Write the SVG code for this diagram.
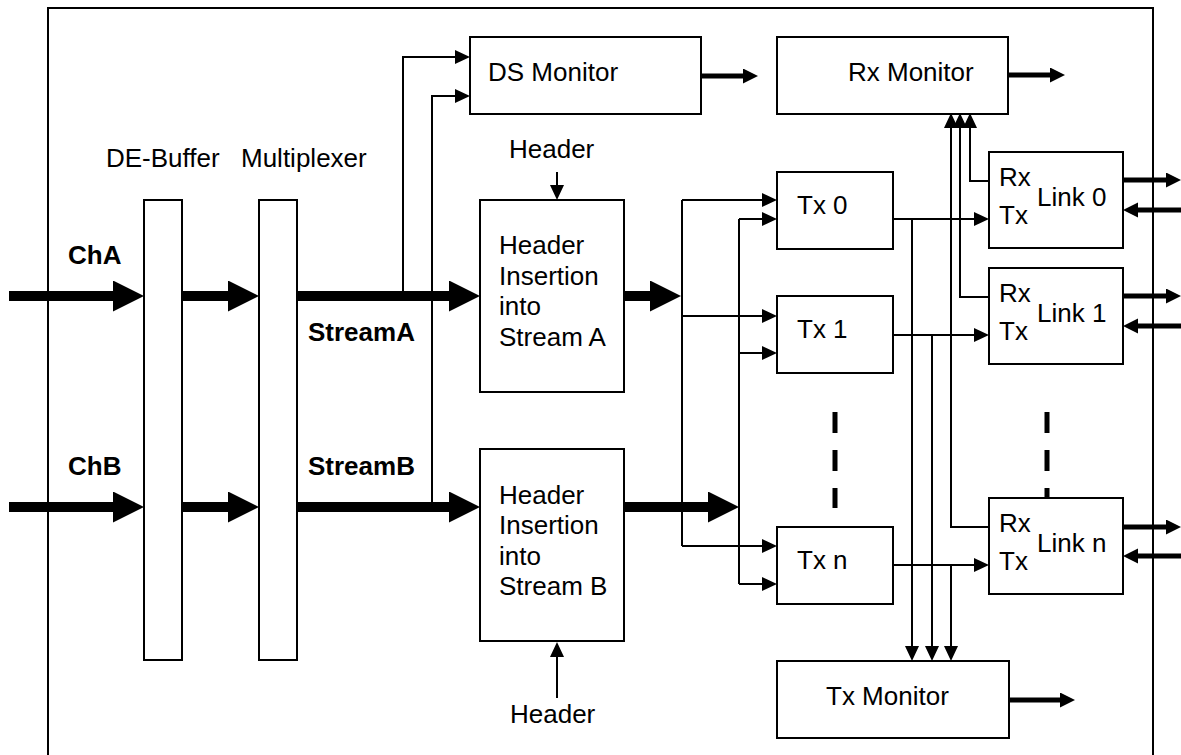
<svg xmlns="http://www.w3.org/2000/svg" width="1181" height="755" viewBox="0 0 1181 755">
<defs>
<style>
.box{fill:#fff;stroke:#000;stroke-width:2}
.t{font-family:"Liberation Sans",Arial,sans-serif;font-size:26px;fill:#000}
.b{font-weight:bold}
.thin{fill:none;stroke:#000;stroke-width:2}
.thinA{fill:none;stroke:#000;stroke-width:2;marker-end:url(#ah)}
.med{fill:none;stroke:#000;stroke-width:5;marker-end:url(#am)}
.thick{fill:none;stroke:#000;stroke-width:10;marker-end:url(#at)}
.dash{fill:none;stroke:#000;stroke-width:5;stroke-dasharray:21 17}
</style>
<marker id="ah" markerUnits="userSpaceOnUse" markerWidth="16" markerHeight="16" refX="1" refY="7" orient="auto"><path d="M0,0 L15,7 L0,14 z" fill="#000"/></marker>
<marker id="am" markerUnits="userSpaceOnUse" markerWidth="16" markerHeight="16" refX="1" refY="7.5" orient="auto"><path d="M0,0 L15,7.5 L0,15 z" fill="#000"/></marker>
<marker id="at" markerUnits="userSpaceOnUse" markerWidth="32" markerHeight="32" refX="1" refY="15.5" orient="auto"><path d="M0,0 L31,15.5 L0,31 z" fill="#000"/></marker>
</defs>
<rect width="1181" height="755" fill="#fff"/>
<path d="M48,760 V8 H1153 V760" fill="none" stroke="#000" stroke-width="2"/>

<g id="connectors">
<path class="thick" d="M9,296 H114"/>
<path class="thick" d="M182,296 H229"/>
<path class="thick" d="M297,296 H450"/>
<path class="thick" d="M9,507 H114"/>
<path class="thick" d="M182,507 H229"/>
<path class="thick" d="M297,507 H450"/>
<path class="thick" d="M624,296 H651"/>
<path class="thick" d="M624,507 H709"/>

<path class="thinA" d="M403,296 V57 H456"/>
<path class="thinA" d="M432,507 V96 H456"/>
<path class="thinA" d="M557,172 V186"/>
<path class="thinA" d="M557,698 V656"/>

<path class="thin" d="M682,200 V546"/>
<path class="thinA" d="M682,200 H763"/>
<path class="thinA" d="M682,316 H763"/>
<path class="thinA" d="M682,546 H763"/>
<path class="thin" d="M739,219 V584"/>
<path class="thinA" d="M739,219 H763"/>
<path class="thinA" d="M739,353 H763"/>
<path class="thinA" d="M739,584 H763"/>

<path class="thinA" d="M893,219 H975"/>
<path class="thinA" d="M893,335 H975"/>
<path class="thinA" d="M893,565 H975"/>

<path class="thinA" d="M912,219 V647"/>
<path class="thinA" d="M932,335 V647"/>
<path class="thinA" d="M951,565 V647"/>

<path class="thinA" d="M989,181 H970 V127"/>
<path class="thinA" d="M989,297 H960 V127"/>
<path class="thinA" d="M989,527 H951 V127"/>

<path class="med" d="M701,76 H744"/>
<path class="med" d="M1008,75 H1051"/>
<path class="med" d="M1009,700 H1061"/>
<path class="med" d="M1123,180 H1167"/>
<path class="med" d="M1181,210 H1137"/>
<path class="med" d="M1123,296 H1167"/>
<path class="med" d="M1181,326 H1137"/>
<path class="med" d="M1123,527 H1167"/>
<path class="med" d="M1181,556 H1137"/>

<path class="dash" d="M835,412 V508"/>
<path class="dash" d="M1047,412 V498"/>
</g>

<g id="labels">
<text class="t" x="106" y="167">DE-Buffer</text>
<text class="t" x="241" y="167">Multiplexer</text>
<text class="t b" x="68" y="264">ChA</text>
<text class="t b" x="308" y="341">StreamA</text>
<text class="t b" x="68" y="475">ChB</text>
<text class="t b" x="308" y="475">StreamB</text>
<text class="t" x="509" y="158">Header</text>
<text class="t" x="510" y="723">Header</text>
</g>

<g id="debuffer"><rect class="box" x="144" y="200" width="38" height="460"/></g>
<g id="multiplexer"><rect class="box" x="259" y="200" width="38" height="460"/></g>

<g id="ds-monitor"><rect class="box" x="470" y="37" width="231" height="77"/><text class="t" x="488" y="81">DS Monitor</text></g>
<g id="rx-monitor"><rect class="box" x="777" y="37" width="231" height="77"/><text class="t" x="848" y="81">Rx Monitor</text></g>
<g id="tx-monitor"><rect class="box" x="777" y="661" width="232" height="77"/><text class="t" x="826" y="705">Tx Monitor</text></g>

<g id="hdr-a"><rect class="box" x="480" y="200" width="144" height="192"/>
<text class="t" x="499"><tspan x="499" y="254">Header</tspan><tspan x="499" y="284.5">Insertion</tspan><tspan x="499" y="315">into</tspan><tspan x="499" y="345.5">Stream A</tspan></text></g>
<g id="hdr-b"><rect class="box" x="480" y="449" width="144" height="192"/>
<text class="t" x="499"><tspan x="499" y="503.5">Header</tspan><tspan x="499" y="534">Insertion</tspan><tspan x="499" y="564.5">into</tspan><tspan x="499" y="595">Stream B</tspan></text></g>

<g id="tx0"><rect class="box" x="777" y="172" width="116" height="77"/><text class="t" x="797" y="214">Tx 0</text></g>
<g id="tx1"><rect class="box" x="777" y="296" width="116" height="77"/><text class="t" x="797" y="338">Tx 1</text></g>
<g id="txn"><rect class="box" x="777" y="527" width="116" height="77"/><text class="t" x="797" y="569">Tx n</text></g>

<g id="link0"><rect class="box" x="989" y="152" width="134" height="96"/><text class="t" x="999" y="186">Rx</text><text class="t" x="999" y="224">Tx</text><text class="t" x="1037" y="206">Link 0</text></g>
<g id="link1"><rect class="box" x="989" y="268" width="134" height="96"/><text class="t" x="999" y="302">Rx</text><text class="t" x="999" y="340">Tx</text><text class="t" x="1037" y="322">Link 1</text></g>
<g id="linkn"><rect class="box" x="989" y="498" width="134" height="96"/><text class="t" x="999" y="532">Rx</text><text class="t" x="999" y="570">Tx</text><text class="t" x="1037" y="552">Link n</text></g>
</svg>
